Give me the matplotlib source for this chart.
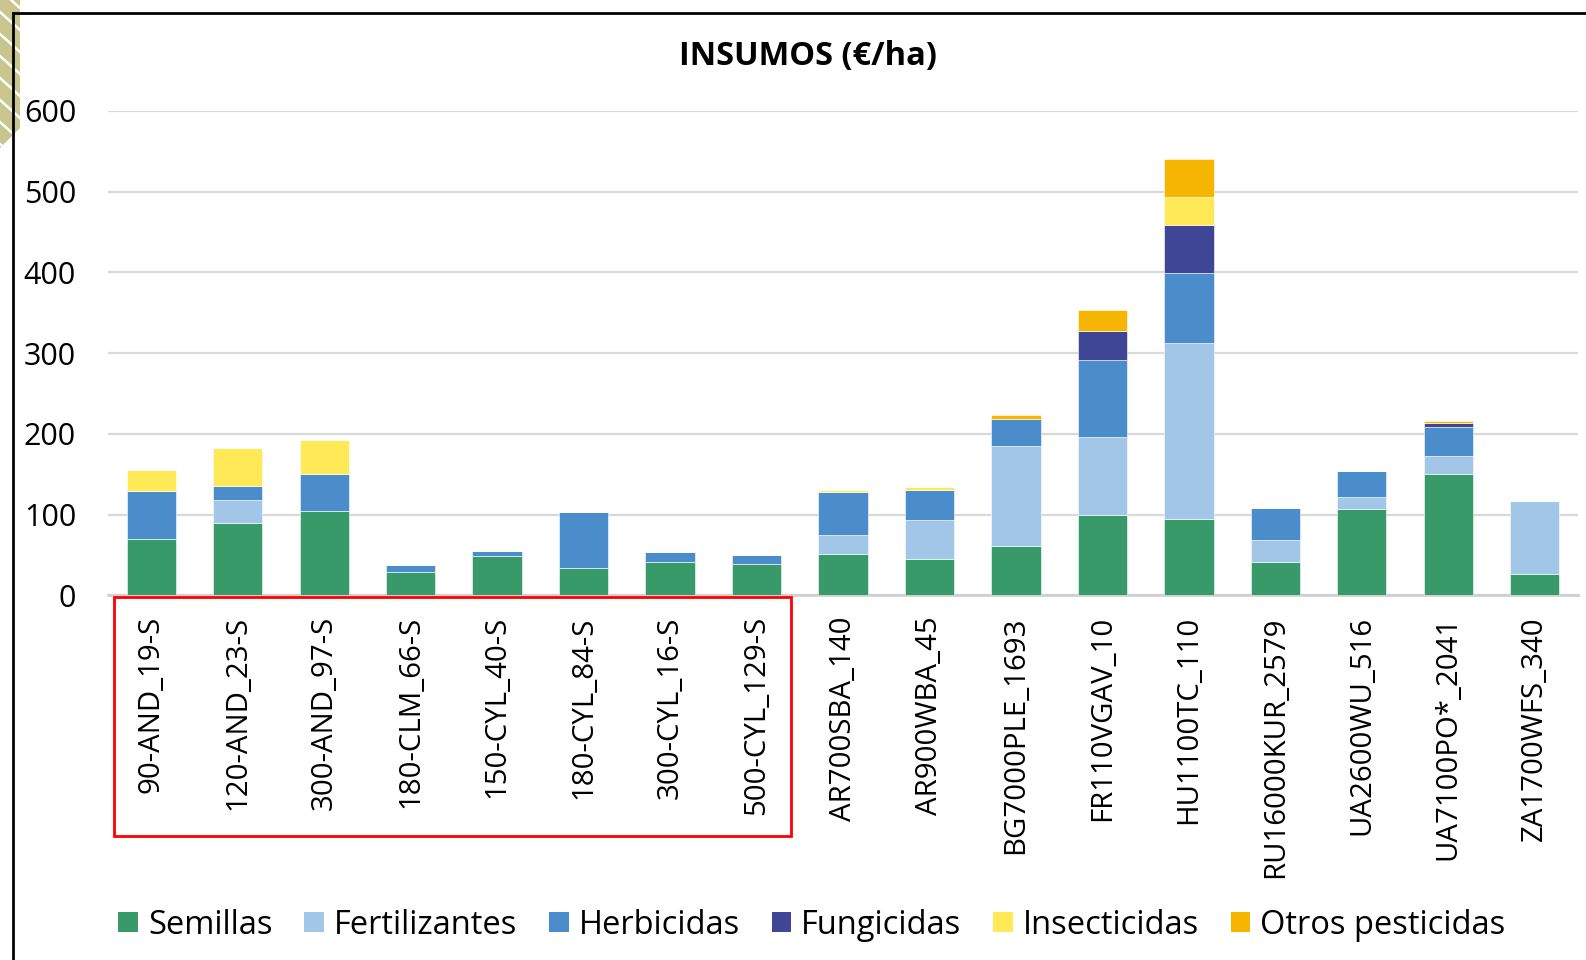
import matplotlib
matplotlib.use("Agg")
import matplotlib.pyplot as plt
import matplotlib.transforms as mtransforms
from matplotlib.patches import Rectangle, Polygon
from matplotlib.lines import Line2D
import numpy as np

plt.rcParams['font.family'] = ['Open Sans', 'DejaVu Sans']

categories = ["90-AND_19-S", "120-AND_23-S", "300-AND_97-S", "180-CLM_66-S",
              "150-CYL_40-S", "180-CYL_84-S", "300-CYL_16-S", "500-CYL_129-S",
              "AR700SBA_140", "AR900WBA_45", "BG7000PLE_1693", "FR110VGAV_10",
              "HU1100TC_110", "RU16000KUR_2579", "UA2600WU_516", "UA7100PO*_2041",
              "ZA1700WFS_340"]

semillas = [70, 89, 104, 29, 49, 34, 41, 39, 51, 45, 61, 100, 94, 41, 107, 150, 27]
fertilizantes = [0, 29, 0, 0, 0, 0, 0, 0, 24, 48, 124, 96, 219, 27, 15, 22, 90]
herbicidas = [59, 17, 46, 8, 6, 69, 13, 11, 53, 38, 33, 95, 86, 40, 32, 36, 0]
fungicidas = [0, 0, 0, 0, 0, 0, 0, 0, 0, 0, 0, 37, 60, 0, 0, 6, 0]
insecticidas = [26, 47, 42, 0, 0, 0, 0, 0, 2, 3, 0, 0, 35, 0, 0, 0, 0]
otros = [0, 0, 0, 0, 0, 0, 0, 0, 0, 0, 5, 26, 47, 0, 0, 1.5, 0]

series_names = ["Semillas", "Fertilizantes", "Herbicidas", "Fungicidas",
                "Insecticidas", "Otros pesticidas"]
series_values = [semillas, fertilizantes, herbicidas, fungicidas, insecticidas, otros]
colors = ["#389a68", "#a1c6e8", "#4a8dca", "#3f4696", "#ffe957", "#f5b500"]

yticks = [0, 100, 200, 300, 400, 500, 600]

W, H = 1586, 960
fig = plt.figure(figsize=(W / 100, H / 100), dpi=100)

ax_left, ax_right = 108, 1578
ax_top, ax_bot = 111, 595.3
ax = fig.add_axes([ax_left / W, 1 - ax_bot / H, (ax_right - ax_left) / W, (ax_bot - ax_top) / H])

x = np.arange(len(categories))
bottom = np.zeros(len(categories))
handles = []
for name, vals, col in zip(series_names, series_values, colors):
    vals = np.array(vals, dtype=float)
    ax.bar(x, vals, bottom=bottom, width=0.57, color=col, edgecolor='white',
           linewidth=0.4, zorder=3, label=name)
    bottom += vals
    handles.append(Rectangle((0, 0), 1, 1, facecolor=col, edgecolor='none'))

ax.set_xlim(-0.5, len(categories) - 0.5)
ax.set_ylim(0, 600)
ax.set_yticks(yticks)
ax.set_yticklabels([str(t) for t in yticks], fontsize=22)
ax.set_xticks(x)
ax.set_xticklabels(categories, rotation=90, fontsize=21.2, va='top', ha='center')
ax.tick_params(axis='both', length=0)
ax.tick_params(axis='y', pad=23)
ax.tick_params(axis='x', pad=15)
for s in ['top', 'right', 'left']:
    ax.spines[s].set_visible(False)
ax.spines['bottom'].set_color('#d0d0d0')
ax.spines['bottom'].set_linewidth(2)
ax.yaxis.grid(True, color='#d9d9d9', linewidth=1.6, zorder=0)
ax.set_axisbelow(True)

# Title
fig.text(808 / W, 1 - 57 / H, "INSUMOS (€/ha)", ha='center', va='center',
         fontsize=23.5, fontweight='bold')

# Legend
fig.legend(handles, series_names, loc='center', bbox_to_anchor=(812 / W, 1 - 925 / H),
           ncol=6, frameon=False, fontsize=23.5, handlelength=0.6, handleheight=0.6,
           handletextpad=0.3, columnspacing=0.98)

# Red box around first group of labels
trans = mtransforms.blended_transform_factory(ax.transData, fig.transFigure)
ax.add_patch(Rectangle((-0.43, 1 - 835.5 / H), 7.83, (835.5 - 597) / H,
                       transform=trans, fill=False, edgecolor='#ff0000',
                       linewidth=2, clip_on=False, zorder=5))

# Decorative olive strip at top-left
pix = mtransforms.Affine2D().scale(1 / W, 1 / H) + fig.transFigure
def P(px, py):
    return (px, H - py)
poly = Polygon([P(0, 0), P(20, 0), P(20, 128), P(0, 148)], closed=True,
               facecolor='#c8c68e', edgecolor='none', transform=pix)
fig.add_artist(poly)
for y0 in range(-10, 150, 22):
    ln = Line2D([0, 20], [H - y0, H - (y0 + 18)], color='white', linewidth=1.8,
                transform=pix)
    ln.set_clip_path(poly)
    fig.add_artist(ln)

# Black border (top and left)
fig.add_artist(Line2D([13, W], [H - 13, H - 13], color='black', linewidth=2, transform=pix))
fig.add_artist(Line2D([13, 13], [H - 13, 0], color='black', linewidth=2, transform=pix))

fig.savefig("out.png", dpi=100)
